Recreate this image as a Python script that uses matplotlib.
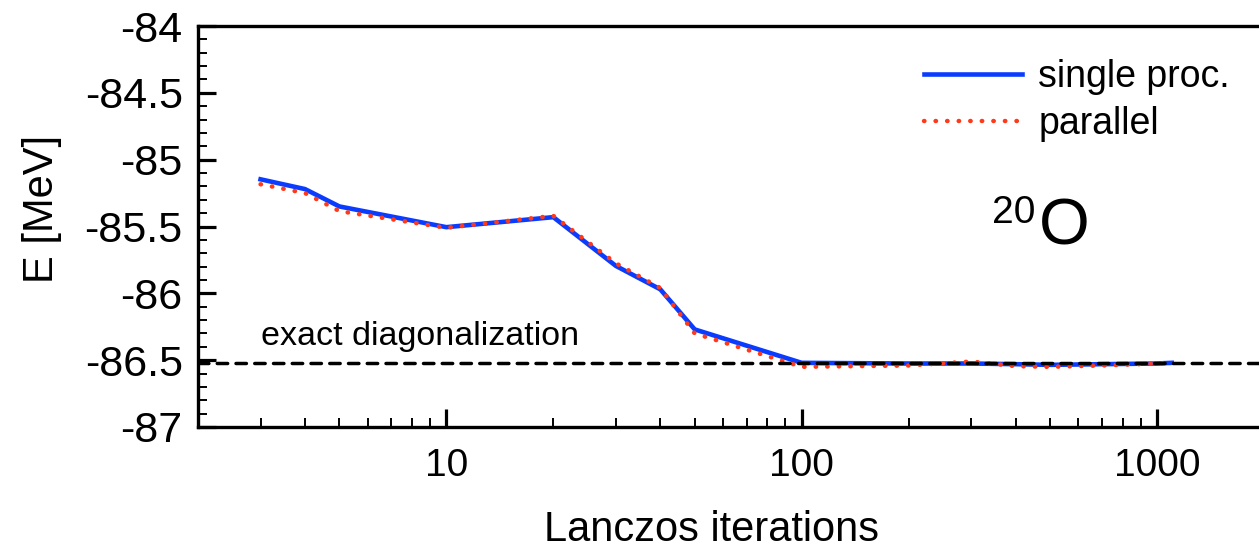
import matplotlib
matplotlib.use("Agg")
import matplotlib.pyplot as plt
from matplotlib.ticker import MultipleLocator, FormatStrFormatter, LogLocator, NullFormatter, FixedLocator

plt.rcParams['font.family'] = ['Liberation Sans', 'DejaVu Sans']

# data
iters_single = [3, 4, 5, 10, 20, 30, 40, 50, 100, 200, 300, 400, 500, 700, 1000, 1100]
energy_single = [-85.147, -85.22, -85.35, -85.505, -85.43, -85.795, -85.97, -86.27,
                 -86.52, -86.525, -86.525, -86.53, -86.535, -86.53, -86.525, -86.52]
iters_parallel = [3, 4, 5, 10, 20, 30, 40, 50, 100, 200, 300, 400, 500, 700, 1000, 1100]
energy_parallel = [-85.184, -85.25, -85.385, -85.51, -85.42, -85.775, -85.96, -86.30,
                   -86.55, -86.54, -86.51, -86.545, -86.55, -86.54, -86.525, -86.52]
exact_energy = -86.523
xticks = [10, 100, 1000]
xticklabels = ["10", "100", "1000"]

W, H = 1259, 548
fig = plt.figure(figsize=(W / 100, H / 100), dpi=100)
ax = fig.add_axes([198 / W, (H - 427) / H, (1264 - 198) / W, 401 / H])

ax.plot(iters_single, energy_single, color='#0a3cff', lw=3.3, solid_joinstyle='miter',
        label='single proc.', zorder=3)
ax.plot(iters_parallel, energy_parallel, color='#ff3a1a', lw=3.2,
        linestyle=(0, (0.1, 2.5)), dash_capstyle='round', label='parallel', zorder=4)
ax.axhline(exact_energy, color='black', lw=2.5, linestyle=(0, (3.0, 2.4)),
           dash_capstyle='round', zorder=5)

ax.set_xscale('log')
ax.set_xlim(2, 2000)
ax.set_ylim(-87, -84)

ax.xaxis.set_major_locator(FixedLocator(xticks))
ax.set_xticklabels(xticklabels)
ax.xaxis.set_minor_locator(LogLocator(base=10, subs=range(2, 10), numticks=20))
ax.xaxis.set_minor_formatter(NullFormatter())
ax.yaxis.set_major_locator(MultipleLocator(0.5))
ax.yaxis.set_minor_locator(MultipleLocator(0.1))
ax.yaxis.set_major_formatter(FormatStrFormatter('%g'))

ax.tick_params(axis='both', which='both', direction='in', top=False, right=False)
ax.tick_params(axis='both', which='major', length=13, width=2.3)
ax.tick_params(axis='both', which='minor', length=6.5, width=1.4)
ax.tick_params(axis='y', which='major', pad=11, labelsize=31)
ax.tick_params(axis='x', which='major', pad=15, labelsize=28)

for s in ax.spines.values():
    s.set_linewidth(2.4)

ax.set_xlabel('Lanczos iterations', fontsize=30)
ax.xaxis.label.set_va('center')
ax.xaxis.set_label_coords(0.482, -0.257)
ax.set_ylabel('E [MeV]', fontsize=30)
ax.yaxis.set_label_coords(-0.128, 0.545)

ax.text(3.0, -86.386, 'exact diagonalization', fontsize=24.5, va='baseline', ha='left')
ax.text(0.745, 0.509, '20', transform=ax.transAxes, fontsize=28, va='baseline', ha='left')
ax.text(0.789, 0.454, 'O', transform=ax.transAxes, fontsize=47, va='baseline', ha='left')

leg = ax.legend(loc='upper left', bbox_to_anchor=(0.667, 0.955), frameon=False, fontsize=27,
                handlelength=2.6, handletextpad=0.45, labelspacing=0.3, borderaxespad=0)

fig.savefig('out.png', dpi=100)
